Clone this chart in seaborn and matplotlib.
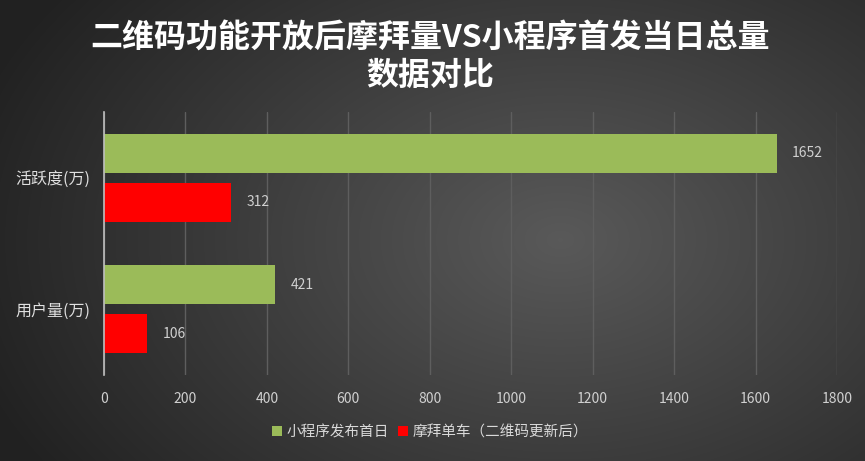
import matplotlib.pyplot as plt
import seaborn as sns
import numpy as np
import pandas as pd

plt.switch_backend('Agg')

# chart data
categories = ['活跃度(万)', '活跃度(万)', '用户量(万)', '用户量(万)']
series = ['小程序发布首日', '摩拜单车（二维码更新后）', '小程序发布首日', '摩拜单车（二维码更新后）']
values = [1652, 312, 421, 106]
x_ticks = [0, 200, 400, 600, 800, 1000, 1200, 1400, 1600, 1800]
title_line1 = '二维码功能开放后摩拜量VS小程序首发当日总量'
title_line2 = '数据对比'

df = pd.DataFrame({'category': categories, 'series': series, 'value': values})

sns.set_theme(style='white')
plt.rcParams['font.family'] = ['Noto Sans CJK SC', 'DejaVu Sans']

fig = plt.figure(figsize=(8.65, 4.61), dpi=100)

# radial gradient background
bg = fig.add_axes([0, 0, 1, 1], zorder=-10)
yy, xx = np.mgrid[0:461, 0:865]
r = np.sqrt(((xx - 560) / 620.0) ** 2 + ((yy - 240) / 420.0) ** 2)
shade = np.clip(0.35 - 0.22 * r, 0.13, 0.35)
bg.imshow(np.dstack([shade] * 3), aspect='auto', extent=[0, 1, 0, 1], origin='upper')
bg.axis('off')

ax = fig.add_axes([104 / 865, 1 - 375 / 461, (837 - 104) / 865, (375 - 112) / 461])
ax.set_facecolor('none')

palette = {'小程序发布首日': '#9BBB59', '摩拜单车（二维码更新后）': '#FF0000'}
sns.barplot(data=df, x='value', y='category', hue='series', palette=palette,
            width=0.742, gap=0.204, saturation=1, linewidth=0, ax=ax, legend=True)

for cont in ax.containers:
    ax.bar_label(cont, labels=[f'{int(v)}' for v in cont.datavalues], padding=11,
                 color='#d0d0d0', fontsize=10)

ax.set_xlim(0, 1800)
ax.set_xticks(x_ticks)
ax.set_xticklabels([str(t) for t in x_ticks], color='#d0d0d0', fontsize=10)
ax.tick_params(axis='x', length=0, pad=12)
ax.tick_params(axis='y', length=0, pad=10)
for lbl in ax.get_yticklabels():
    lbl.set_color('#e0e0e0')
    lbl.set_fontsize(11.5)
ax.set_xlabel('')
ax.set_ylabel('')
ax.grid(axis='x', color='#5e5e5e', linewidth=1)
ax.set_axisbelow(True)
for s in ['top', 'right', 'bottom']:
    ax.spines[s].set_visible(False)
ax.spines['left'].set_color('#bfbfbf')
ax.spines['left'].set_linewidth(1.2)

leg = ax.legend(loc='center', bbox_to_anchor=(0.445, -0.217), ncol=2, frameon=False,
                fontsize=10.5, handlelength=0.7, handleheight=0.7, handletextpad=0.3,
                columnspacing=0.6)
for t in leg.get_texts():
    t.set_color('#d9d9d9')

fig.text(0.497, 1 - 39 / 461, title_line1, ha='center', va='center', color='white',
         fontsize=23, fontweight='bold')
fig.text(0.497, 1 - 76 / 461, title_line2, ha='center', va='center', color='white',
         fontsize=23, fontweight='bold')

fig.savefig('out.png', dpi=100)
plt.close()
